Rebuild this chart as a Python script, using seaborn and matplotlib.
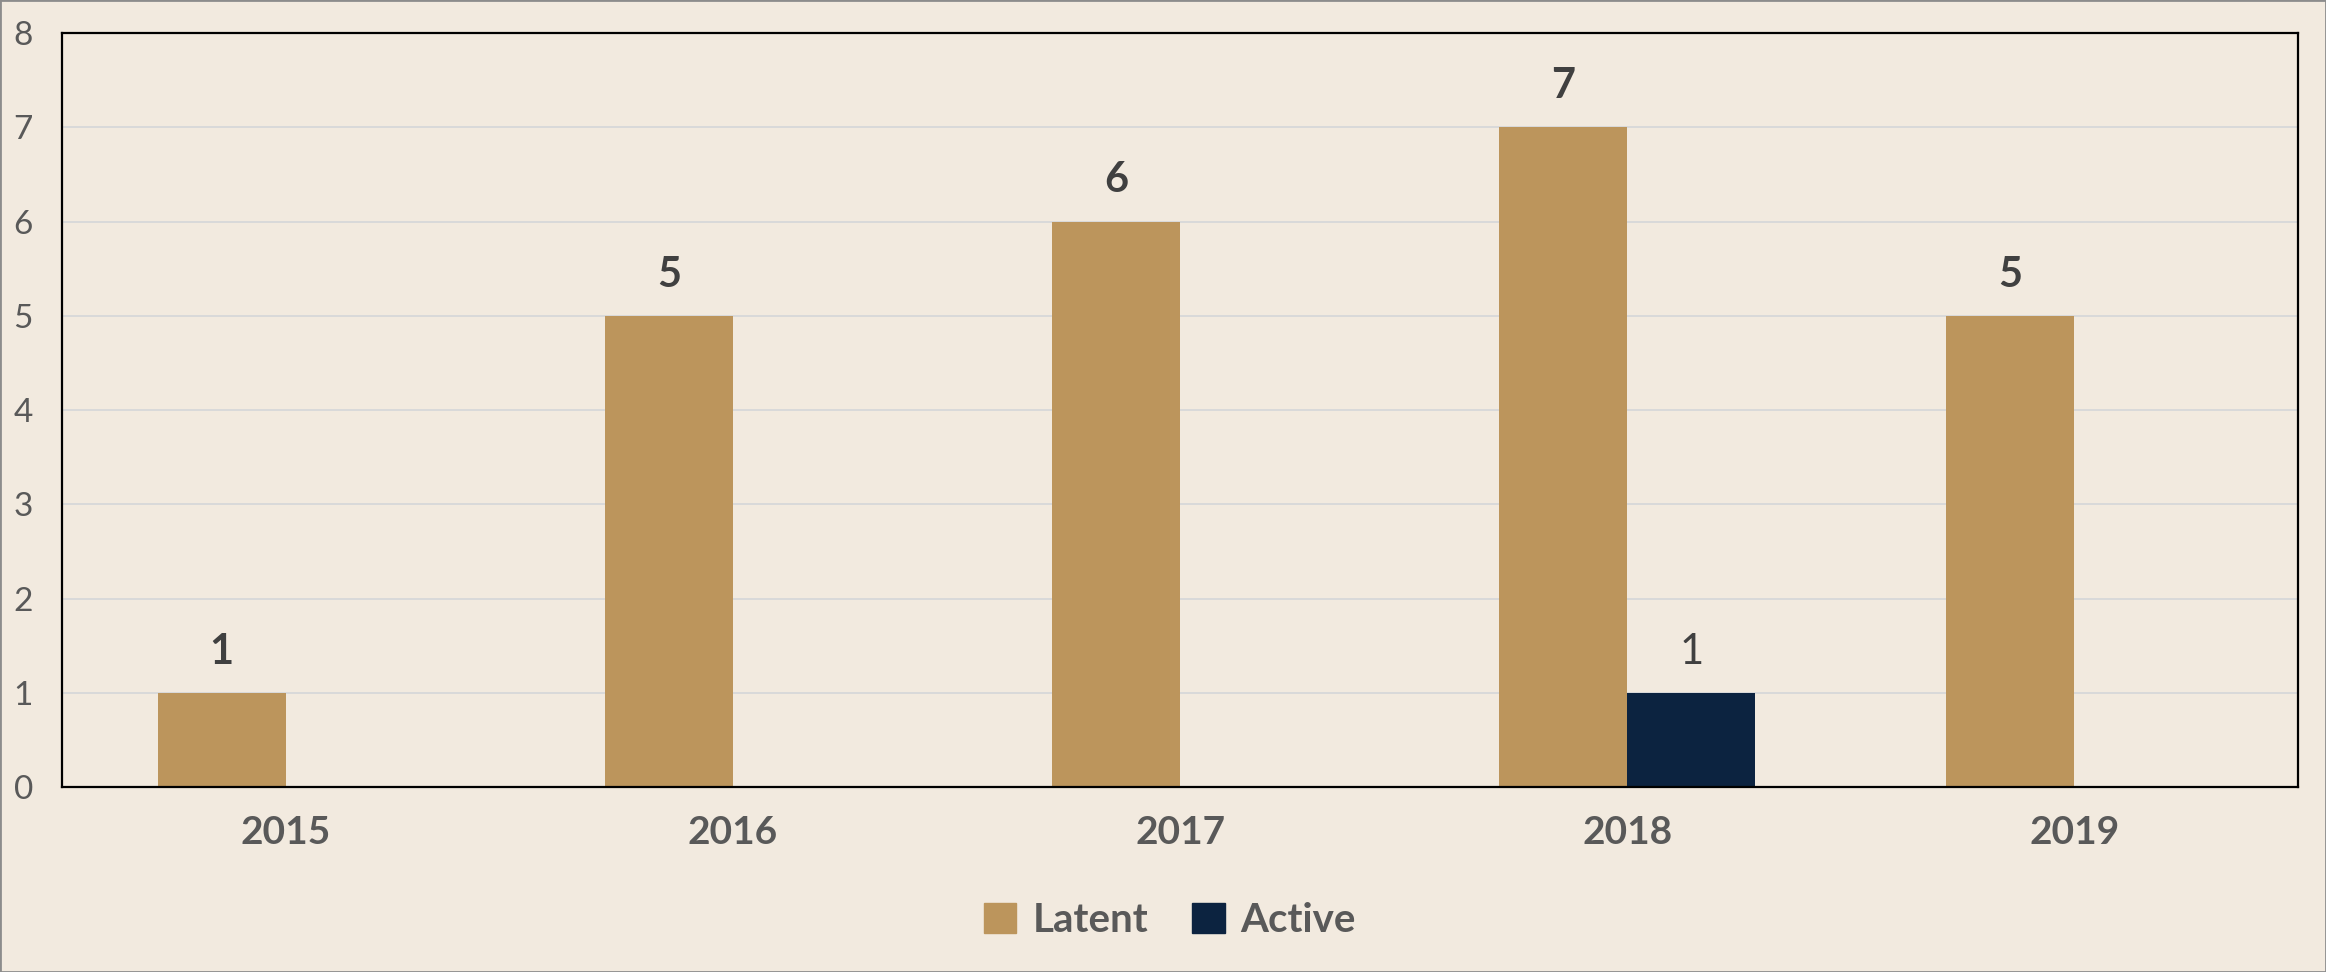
import numpy as np
import pandas as pd
import matplotlib
matplotlib.use("Agg")
import matplotlib.pyplot as plt
import seaborn as sns

sns.set_style("white")
plt.rcParams["font.family"] = ["Lato", "DejaVu Sans"]

# data
years = ["2015", "2016", "2017", "2018", "2019"]
latent = [1, 5, 6, 7, 5]
active = [np.nan, np.nan, np.nan, 1, np.nan]
series = ["Latent", "Active"]
colors = ["#BC955C", "#0C2340"]

bg = "#F2EADF"
text_grey = "#595959"

df = pd.DataFrame({
    "year": years * 2,
    "status": ["Latent"] * len(years) + ["Active"] * len(years),
    "count": latent + active,
}).dropna()

fig = plt.figure(figsize=(23.26, 9.72), dpi=100, facecolor=bg)
ax = fig.add_axes([0.0267, 0.1903, 0.9613, 0.7757])
ax.set_facecolor(bg)

sns.barplot(
    data=df,
    x="year",
    y="count",
    hue="status",
    order=years,
    hue_order=series,
    palette=colors,
    width=0.573,
    saturation=1,
    linewidth=0,
    legend=False,
    ax=ax
)

ax.set_ylim(0, 8)
ax.set_yticks(range(0, 9))
ax.yaxis.grid(True, color="#D9D9D9", linewidth=1.4)
ax.set_axisbelow(True)
ax.set_xlabel("")
ax.set_ylabel("")

for s in ax.spines.values():
    s.set_color("black")
    s.set_linewidth(1.6)

ax.tick_params(axis="y", length=0, pad=21, labelsize=24, labelcolor=text_grey)
ax.tick_params(axis="x", length=0, pad=20, labelsize=28, labelcolor=text_grey)
for lab in ax.get_xticklabels():
    lab.set_fontweight("bold")

# value labels
ax.bar_label(ax.containers[0], fmt="%g", padding=16, fontsize=30,
             fontweight="bold", color="#404040")
ax.bar_label(ax.containers[1], fmt="%g", padding=16, fontsize=30,
             color="#404040")

# legend
handles = [plt.Rectangle((0, 0), 1, 1, color=c) for c in colors]
leg = fig.legend(
    handles, series,
    loc="center",
    bbox_to_anchor=(0.503, 0.053),
    ncol=2,
    frameon=False,
    handlelength=0.8,
    handleheight=0.8,
    handletextpad=0.4,
    columnspacing=1.1,
    prop={"size": 29, "weight": "bold"}
)
for t in leg.get_texts():
    t.set_color(text_grey)

# outer frame
fig.patches.append(plt.Rectangle((0, 0), 1, 1, transform=fig.transFigure,
                                 fill=False, edgecolor="#8C8C8C", linewidth=2))

fig.savefig("out.png", dpi=100, facecolor=bg)
